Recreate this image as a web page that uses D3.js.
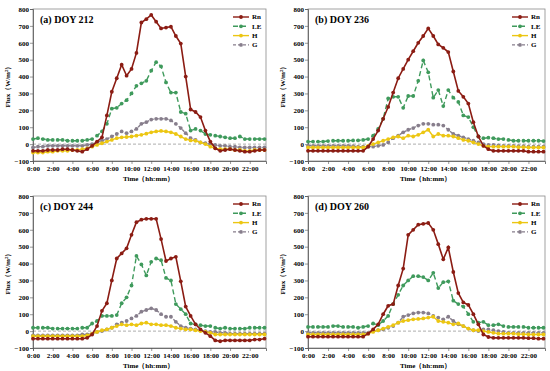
<!DOCTYPE html>
<html lang="en">
  <head>
    <meta charset="UTF-8" />
    <title>Flux DOY</title>
    <script src="https://d3js.org/d3.v7.min.js" charset="utf-8"></script>
    <style>
      body { margin: 0; background: #fff; }
      text { font-family: "Liberation Serif", "Times New Roman", serif; font-weight: bold; fill: #000; }
    </style>
  </head>
  <body>
    <svg class="chart"></svg>
    <script>
      // half-hourly time of day (hours)
      let hours = [0, 0.5, 1, 1.5, 2, 2.5, 3, 3.5, 4, 4.5, 5, 5.5, 6, 6.5, 7, 7.5, 8, 8.5, 9, 9.5, 10, 10.5, 11, 11.5,
        12, 12.5, 13, 13.5, 14, 14.5, 15, 15.5, 16, 16.5, 17, 17.5, 18, 18.5, 19, 19.5, 20, 20.5, 21, 21.5, 22, 22.5, 23, 23.5];
      let tickHours = [0, 2, 4, 6, 8, 10, 12, 14, 16, 18, 20, 22];
      let tickLabels = ["0:00", "2:00", "4:00", "6:00", "8:00", "10:00", "12:00", "14:00", "16:00", "18:00", "20:00", "22:00"];
      let fluxTicks = [-100, 0, 100, 200, 300, 400, 500, 600, 700, 800];
      let seriesNames = ["Rn", "LE", "H", "G"];
      let titles = ["(a) DOY 212", "(b) DOY 236", "(c) DOY 244", "(d) DOY 260"];

      // DOY 212
      let rnA = [-40, -40, -40, -35, -35, -35, -30, -30, -35, -40, -45, -30, -10, 15, 40, 170, 310, 390, 470, 405, 445, 540, 720, 740,
        765, 725, 685, 690, 695, 640, 595, 400, 205, 190, 160, 80, 15, -25, -40, -35, -30, -35, -40, -45, -45, -40, -35, -35];
      let leA = [30, 35, 30, 25, 25, 25, 25, 20, 20, 20, 20, 25, 30, 50, 75, 120, 210, 215, 240, 260, 300, 345, 360, 375,
        435, 485, 460, 365, 305, 305, 190, 180, 80, 90, 80, 60, 55, 50, 45, 40, 35, 35, 45, 30, 30, 30, 30, 30];
      let hA = [-50, -50, -50, -45, -45, -40, -40, -40, -35, -35, -30, -25, -15, -5, 5, 15, 25, 35, 40, 42, 45, 50, 55, 62,
        70, 75, 78, 75, 70, 60, 45, 30, 22, 20, 10, 0, -15, -25, -30, -30, -30, -35, -35, -40, -40, -35, -35, -35];
      let gA = [-20, -15, -15, -10, -10, -10, -10, -10, -10, -10, -10, -5, 0, 10, 20, 30, 45, 60, 75, 65, 75, 90, 120, 130,
        145, 150, 150, 150, 140, 120, 95, 65, 35, 25, 10, 5, 0, -5, -10, -10, -15, -15, -20, -20, -20, -20, -20, -20];

      // DOY 236
      let rnB = [-40, -40, -40, -40, -40, -40, -40, -40, -40, -40, -40, -40, -15, 30, 80, 150, 220, 305, 390, 445, 500, 550, 600, 640,
        685, 640, 590, 570, 545, 430, 315, 280, 240, 130, 45, -10, -30, -40, -40, -40, -40, -40, -40, -40, -45, -45, -45, -45];
      let leB = [15, 15, 15, 15, 18, 20, 20, 20, 20, 22, 22, 25, 30, 50, 90, 150, 270, 280, 280, 215, 285, 285, 375, 495,
        425, 275, 320, 225, 320, 275, 250, 170, 160, 100, 45, 35, 38, 35, 30, 30, 25, 20, 20, 20, 20, 20, 20, 18];
      let hB = [-20, -20, -20, -20, -20, -20, -20, -20, -20, -20, -20, -20, -10, 0, 10, 20, 30, 40, 45, 35, 50, 45, 55, 70,
        85, 45, 60, 50, 50, 45, 35, 25, 20, 10, 0, -10, -15, -15, -15, -15, -15, -15, -18, -18, -20, -20, -20, -20];
      let gB = [-10, -10, -10, -10, -10, -10, -10, -10, -10, -12, -15, -15, -15, -15, -10, -5, 10, 35, 50, 70, 85, 95, 110, 120,
        120, 115, 115, 110, 85, 60, 50, 40, 30, 20, 10, 0, -5, -5, -8, -10, -10, -10, -12, -12, -15, -15, -15, -15];

      // DOY 244
      let rnC = [-45, -45, -45, -45, -45, -45, -45, -45, -45, -45, -45, -40, -20, 30, 120, 165, 300, 430, 460, 490, 570, 645, 660, 665,
        665, 665, 545, 415, 430, 440, 295, 145, 90, 40, 10, -10, -30, -55, -60, -55, -55, -55, -55, -55, -55, -50, -50, -45];
      let leC = [20, 20, 20, 20, 15, 15, 15, 15, 15, 15, 20, 20, 45, 60, 90, 90, 90, 95, 165, 200, 270, 445, 395, 330,
        410, 430, 420, 315, 300, 160, 130, 100, 45, 40, 35, 30, 30, 20, 15, 20, 15, 15, 15, 15, 20, 20, 20, 20];
      let hC = [-30, -30, -30, -30, -30, -30, -30, -30, -30, -30, -30, -25, -15, -5, 5, 10, 20, 30, 40, 35, 40, 35, 45, 50,
        40, 40, 35, 35, 30, 20, 15, 10, 10, 5, 0, -5, -10, -20, -20, -20, -20, -20, -20, -20, -20, -20, -20, -20];
      let gC = [-25, -25, -25, -25, -25, -25, -25, -25, -25, -25, -20, -20, -15, -5, 0, 10, 20, 40, 50, 60, 75, 90, 115, 125,
        135, 125, 100, 85, 85, 55, 30, 20, 15, 10, 5, 0, -5, -5, -10, -10, -15, -15, -15, -15, -15, -15, -15, -15];

      // DOY 260
      let rnD = [-33, -33, -33, -33, -33, -33, -33, -33, -33, -33, -33, -33, -15, 10, 40, 100, 150, 160, 270, 370, 570, 600, 630, 635,
        640, 600, 515, 425, 495, 350, 225, 170, 155, 100, 40, -20, -35, -40, -40, -40, -40, -40, -40, -40, -42, -42, -45, -45];
      let leD = [25, 25, 25, 25, 25, 30, 30, 25, 25, 25, 20, 25, 30, 45, 35, 60, 90, 160, 215, 270, 300, 325, 325, 320,
        300, 345, 255, 290, 295, 180, 160, 145, 100, 55, 50, 55, 35, 35, 40, 30, 25, 25, 25, 25, 20, 20, 20, 20];
      let hD = [-20, -20, -20, -20, -20, -20, -20, -20, -20, -20, -20, -20, -15, -5, 5, 15, 25, 35, 50, 60, 65, 70, 72, 75,
        80, 85, 60, 55, 50, 40, 45, 30, 15, 5, 5, 0, -5, -10, -15, -15, -15, -15, -18, -18, -20, -20, -20, -20];
      let gD = [-10, -10, -10, -10, -10, -10, -10, -10, -10, -10, -10, -10, -10, 0, 5, 10, 20, 30, 50, 85, 95, 105, 110, 110,
        105, 90, 80, 70, 85, 60, 40, 30, 15, 5, 0, 10, 10, 5, 0, -5, -10, -10, -10, -10, -10, -10, -10, -10];

      let panelData = [
        [rnA, leA, hA, gA],
        [rnB, leB, hB, gB],
        [rnC, leC, hC, gC],
        [rnD, leD, hD, gD]
      ];

      // plot boxes
      let boxes = [
        { left: 33, right: 266, top: 9, bottom: 161 },
        { left: 308, right: 545, top: 9, bottom: 161 },
        { left: 33, right: 266, top: 196, bottom: 348 },
        { left: 308, right: 545, top: 196, bottom: 348 }
      ];

      let colors = ["#8b1c13", "#3f9a5c", "#ecc612", "#877e8c"];
      let dashes = [null, "5,3", null, "3,2"];

      let svg = d3.select(".chart").attr("width", 550).attr("height", 371);

      function drawPanel(box, data, title) {
        let x = d3.scaleLinear().domain([0, 23.65]).range([box.left, box.right]);
        let y = d3.scaleLinear().domain([-100, 800]).range([box.bottom, box.top]);
        let g = svg.append("g");

        // frame
        g.append("rect")
          .attr("x", box.left)
          .attr("y", box.top)
          .attr("width", box.right - box.left)
          .attr("height", box.bottom - box.top)
          .attr("fill", "none")
          .attr("stroke", "#8a8a8a")
          .attr("stroke-width", 0.8);

        // zero line
        g.append("line")
          .attr("x1", box.left)
          .attr("x2", box.right)
          .attr("y1", y(0))
          .attr("y2", y(0))
          .attr("stroke", "#999")
          .attr("stroke-width", 0.8)
          .attr("stroke-dasharray", "3,2");

        let yAxis = d3.axisLeft(y).tickValues(fluxTicks).tickSize(3).tickFormat(d3.format("d"));
        let ya = g.append("g").attr("transform", "translate(" + box.left + ",0)").call(yAxis);
        ya.selectAll("path, line").attr("stroke", "#555");
        ya.selectAll("text").style("font-size", "7px").attr("x", -4);

        let xAxis = d3.axisBottom(x).tickValues(tickHours).tickSize(3)
          .tickFormat((d, i) => tickLabels[i]);
        let xa = g.append("g").attr("transform", "translate(0," + box.bottom + ")").call(xAxis);
        xa.selectAll("path, line").attr("stroke", "#555");
        xa.selectAll("text").style("font-size", "7px").attr("y", 5);
        g.selectAll(".domain").attr("stroke-width", 0.8);
        g.selectAll(".tick line").attr("stroke-width", 0.6);

        // axis titles
        g.append("text")
          .attr("x", (box.left + box.right) / 2 - 1)
          .attr("y", box.bottom + 20)
          .attr("text-anchor", "middle")
          .style("font-size", "7px")
          .text("Time（hh:mm）");

        let yt = g.append("text")
          .attr("transform", "translate(" + (box.left - 23) + "," + ((box.top + box.bottom) / 2) + ") rotate(-90)")
          .attr("text-anchor", "middle")
          .style("font-size", "7px");
        yt.append("tspan").text("Flux（W/m");
        yt.append("tspan").attr("dy", -2.5).style("font-size", "5px").text("2");
        yt.append("tspan").attr("dy", 2.5).text("）");

        // series (Rn drawn last)
        for (let s = data.length - 1; s >= 0; s--) {
          let line = d3.line()
            .x((d, i) => x(hours[i]))
            .y(d => y(d));
          g.append("path")
            .datum(data[s])
            .attr("d", line)
            .attr("fill", "none")
            .attr("stroke", colors[s])
            .attr("stroke-width", s === 0 ? 1.6 : 1.4)
            .attr("stroke-dasharray", dashes[s]);
          g.selectAll(".pt" + s)
            .data(data[s])
            .enter()
            .append("circle")
            .attr("cx", (d, i) => x(hours[i]))
            .attr("cy", d => y(d))
            .attr("r", 1.9)
            .attr("fill", colors[s]);
        }

        // title
        g.append("text")
          .attr("x", box.left + 7)
          .attr("y", box.top + 14)
          .style("font-size", "10px")
          .text(title);

        // legend
        let leg = g.selectAll(".leg")
          .data(seriesNames)
          .enter()
          .append("g")
          .attr("transform", (d, i) => "translate(" + (box.right - 33) + "," + (box.top + 8 + i * 9.3) + ")");
        leg.append("line")
          .attr("x1", 0)
          .attr("x2", 16)
          .attr("stroke", (d, i) => colors[i])
          .attr("stroke-width", 1.4)
          .attr("stroke-dasharray", (d, i) => dashes[i]);
        leg.append("circle")
          .attr("cx", 8)
          .attr("r", 1.9)
          .attr("fill", (d, i) => colors[i]);
        leg.append("text")
          .attr("x", 19)
          .attr("dy", "0.33em")
          .style("font-size", "7px")
          .text(d => d);
      }

      boxes.forEach((b, k) => drawPanel(b, panelData[k], titles[k]));
    </script>
  </body>
</html>
